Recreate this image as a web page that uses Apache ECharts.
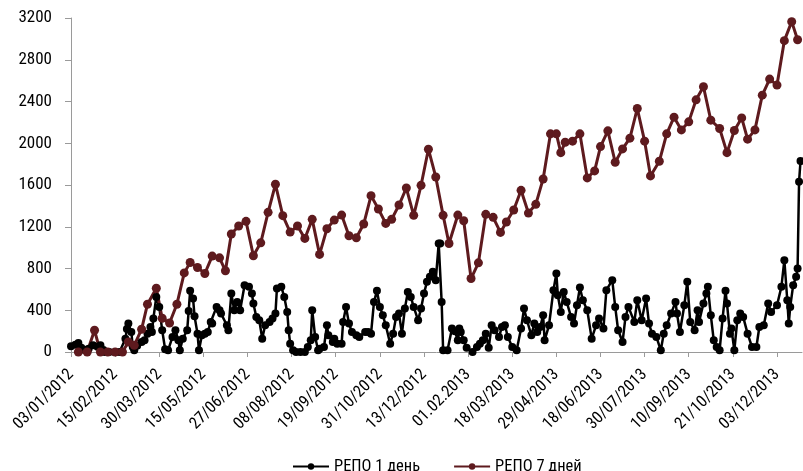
<!DOCTYPE html>
<html>
<head>
<meta charset="utf-8">
<script src="https://cdn.jsdelivr.net/npm/echarts@6/dist/echarts.min.js"></script>
<style>
    html, body { margin: 0; padding: 0; background: #fff; }
    #myChart { width: 803px; height: 471px; }
</style>
</head>
<body>
<div id="myChart"></div>
<script>
/* РЕПО: объём сделок, 1 день и 7 дней */
// подписи оси X (каждые 30 торговых дней)
var tickLabels = ['03/01/2012', '15/02/2012', '30/03/2012', '15/05/2012', '27/06/2012', '08/08/2012',
    '19/09/2012', '31/10/2012', '13/12/2012', '01.02.2013', '18/03/2013', '29/04/2013', '18/06/2013',
    '30/07/2013', '10/09/2013', '21/10/2013', '03/12/2013'];
var tickStep = 30;
var dayCount = 497;

// РЕПО 1 день: номер торгового дня и значение
var repo1Day = [0, 3, 5, 7, 9, 12, 15, 18, 20, 22, 23, 26, 30, 33, 37, 38, 39, 41, 42, 43, 45, 48, 50, 52, 54, 55, 56, 58, 60, 62,
    64, 66, 69, 71, 73, 74, 76, 79, 80, 81, 83, 84, 86, 87, 89, 91, 93, 95, 96, 99, 101, 102, 106, 107, 109, 111, 113, 115, 118, 121,
    123, 124, 126, 128, 130, 132, 135, 137, 139, 140, 143, 145, 147, 148, 149, 151, 153, 156, 159, 161, 163, 164, 166, 168, 169, 172, 174, 175, 178, 179,
    181, 184, 185, 187, 189, 191, 194, 196, 200, 202, 204, 206, 208, 210, 212, 214, 217, 219, 221, 223, 225, 227, 229, 231, 233, 236, 238, 240, 242, 244,
    246, 248, 250, 251, 252, 253, 256, 259, 261, 263, 264, 265, 267, 269, 273, 276, 278, 280, 282, 284, 286, 288, 291, 293, 295, 297, 300, 303, 306, 308,
    310, 313, 315, 317, 319, 321, 322, 325, 328, 330, 331, 333, 335, 337, 340, 342, 344, 346, 348, 351, 354, 357, 359, 362, 364, 368, 370, 372, 375, 377,
    379, 383, 385, 388, 391, 393, 395, 398, 401, 403, 405, 408, 411, 412, 414, 417, 419, 421, 424, 426, 427, 430, 432, 433, 435, 437, 439, 441, 443, 445,
    446, 448, 449, 451, 453, 455, 457, 460, 463, 466, 468, 471, 474, 476, 480, 483, 485, 487, 488, 489, 491, 493, 494, 495, 496];
var repo1Val = [54, 70, 86, 40, 22, 30, 64, 50, 64, 20, 0, 0, 0, 0, 128, 220, 272, 192, 48, 16, 60, 96, 112, 176, 240, 192, 320, 528, 432, 208,
    26, 16, 144, 208, 112, 16, 128, 208, 394, 586, 512, 342, 176, 16, 160, 176, 192, 288, 272, 432, 400, 368, 256, 208, 560, 400, 480, 400, 640, 624,
    560, 464, 336, 304, 128, 256, 288, 320, 368, 608, 624, 528, 384, 208, 80, 16, 0, 0, 0, 48, 112, 400, 144, 16, 32, 48, 256, 160, 96, 128,
    80, 80, 288, 432, 272, 192, 160, 144, 192, 192, 176, 480, 586, 432, 352, 256, 80, 176, 336, 368, 176, 416, 576, 528, 432, 304, 416, 560, 672, 720,
    768, 688, 1040, 1040, 480, 16, 16, 224, 200, 112, 224, 192, 112, 40, 0, 48, 80, 112, 176, 40, 256, 208, 144, 240, 256, 144, 48, 16, 224, 416,
    304, 160, 272, 192, 240, 352, 112, 256, 592, 752, 544, 384, 576, 480, 336, 272, 448, 618, 496, 400, 128, 256, 320, 224, 592, 688, 432, 208, 96, 336,
    432, 288, 496, 304, 512, 272, 176, 144, 16, 176, 256, 368, 480, 368, 192, 448, 672, 288, 208, 400, 288, 464, 560, 624, 352, 112, 48, 16, 320, 586,
    464, 176, 224, 16, 304, 368, 336, 176, 48, 48, 240, 256, 464, 384, 448, 624, 880, 496, 272, 432, 640, 720, 800, 1632, 1830];

// РЕПО 7 дней: номер торгового дня и значение
var repo7Day = [5, 11, 16, 20, 25, 30, 35, 39, 43, 48, 52, 58, 62, 67, 72, 77, 81, 86, 91, 96, 101, 105, 109, 114, 119,
    124, 129, 134, 139, 144, 149, 154, 159, 164, 169, 174, 179, 184, 189, 194, 199, 204, 209, 214, 218, 223, 228, 233, 238, 243,
    248, 253, 257, 263, 267, 272, 277, 282, 287, 292, 296, 301, 306, 311, 316, 321, 326, 330, 333, 336, 341, 346, 351, 356, 360,
    365, 370, 375, 380, 385, 390, 394, 400, 405, 410, 415, 420, 425, 430, 435, 441, 446, 451, 456, 460, 465, 470, 475, 480, 485, 490, 494];
var repo7Val = [0, 0, 208, 0, 0, 0, 0, 96, 64, 218, 458, 611, 323, 278, 458, 758, 858, 810, 752, 919, 902, 778, 1130, 1207, 1252,
    922, 1046, 1338, 1607, 1306, 1149, 1207, 1088, 1271, 935, 1181, 1264, 1312, 1114, 1094, 1226, 1498, 1370, 1232, 1271, 1408, 1571, 1309, 1597, 1943,
    1677, 1309, 1040, 1312, 1258, 704, 854, 1319, 1290, 1146, 1245, 1360, 1549, 1331, 1415, 1658, 2090, 2090, 1910, 2010, 2020, 2090, 1668, 1735, 1968,
    2119, 1818, 1946, 2049, 2333, 2020, 1687, 1827, 2090, 2250, 2128, 2205, 2416, 2541, 2221, 2141, 1910, 2122, 2243, 2039, 2128, 2461, 2615, 2557, 2983, 3165, 2992];

var fontName = '"Roboto Condensed", "DejaVu Sans Condensed", sans-serif';
var myChart = echarts.init(document.getElementById('myChart'));

function toPairs(days, vals) {
    var ary = [];
    for (var i = 0; i < days.length; i++) {
        ary.push([days[i], vals[i]]);
    }
    return ary;
}

function drawChart() {
    var tickValues = tickLabels.map(function (t, k) { return k * tickStep; });

    var option = {
        animation: false,
        textStyle: { fontFamily: fontName, color: '#000' },
        grid: { left: 71, right: 1, top: 18, bottom: 119 },
        legend: {
            left: 287,
            top: 453,
            itemWidth: 36,
            itemHeight: 8,
            itemGap: 33,
            textStyle: { fontFamily: fontName, fontSize: 16.5, color: '#000' },
            data: ['РЕПО 1 день', 'РЕПО 7 дней']
        },
        xAxis: {
            type: 'value',
            min: 0,
            max: dayCount,
            interval: tickStep,
            splitLine: { show: false },
            axisLine: { lineStyle: { color: '#9a9a9a', width: 1 } },
            axisTick: { length: 5, lineStyle: { color: '#9a9a9a' }, customValues: tickValues },
            axisLabel: {
                rotate: 45,
                margin: 20,
                fontFamily: fontName,
                fontSize: 16.5,
                color: '#000',
                customValues: tickValues,
                formatter: function (v) {
                    var k = Math.round(v / tickStep);
                    return (v % tickStep === 0 && tickLabels[k]) ? tickLabels[k] : '';
                }
            }
        },
        yAxis: {
            type: 'value',
            min: 0,
            max: 3200,
            interval: 400,
            splitLine: { show: false },
            axisLine: { show: true, lineStyle: { color: '#9a9a9a', width: 1 } },
            axisTick: { show: true, length: 6, lineStyle: { color: '#9a9a9a' } },
            axisLabel: {
                margin: 19,
                fontFamily: fontName,
                fontSize: 17,
                color: '#000',
                formatter: function (v) { return String(v); }
            }
        },
        series: [{
            name: 'РЕПО 1 день',
            type: 'line',
            data: toPairs(repo1Day, repo1Val),
            symbol: 'circle',
            symbolSize: 8,
            itemStyle: { color: '#000' },
            lineStyle: { color: '#000', width: 2.5 }
        }, {
            name: 'РЕПО 7 дней',
            type: 'line',
            data: toPairs(repo7Day, repo7Val),
            symbol: 'circle',
            symbolSize: 9,
            itemStyle: { color: '#5e1a1e' },
            lineStyle: { color: '#5e1a1e', width: 3 }
        }]
    };

    myChart.setOption(option);
}

drawChart();
</script>
</body>
</html>
